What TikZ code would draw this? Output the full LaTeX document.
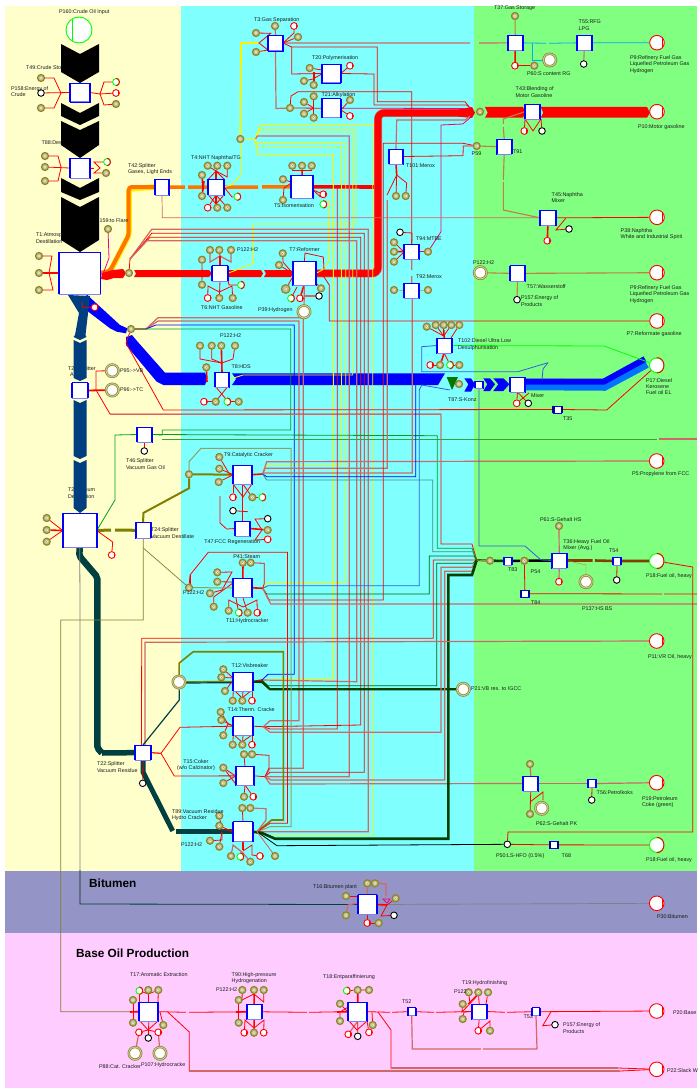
\documentclass[tikz,border=0pt]{standalone}
\usepackage{fontspec}
\setmainfont{Liberation Sans}
\pgfdeclarelayer{back}\pgfdeclarelayer{pipes}\pgfdeclarelayer{wires}
\pgfsetlayers{back,pipes,wires,main}
\definecolor{bgY}{HTML}{FFFFCC}\definecolor{bgC}{HTML}{80FFFF}\definecolor{bgG}{HTML}{80FF80}
\definecolor{bgB}{HTML}{9494C6}\definecolor{bgP}{HTML}{FFCCFF}
\definecolor{plc}{HTML}{8C8628}\definecolor{sal}{HTML}{D06868}\definecolor{dkb}{HTML}{003F7F}
\definecolor{dkt}{HTML}{004040}\definecolor{dkg}{HTML}{004000}\definecolor{olv}{HTML}{808000}
\definecolor{olt}{HTML}{90A060}\definecolor{brn}{HTML}{C08040}\definecolor{pipeb}{HTML}{804000}
\definecolor{grn}{HTML}{00A020}\definecolor{tgr}{HTML}{409080}\definecolor{bl2}{HTML}{3060E0}
\definecolor{lav}{HTML}{8080FF}\definecolor{gry}{HTML}{888888}\definecolor{txc}{HTML}{1C1C1C}
\tikzset{
 tbox/.style={draw=blue,fill=white,line width=.8pt,inner sep=0pt,outer sep=0pt},
 tside/.style={draw=blue,line width=1.8pt},
 tnavy/.style={draw=blue!60!black,line width=2.4pt},
 pl/.style={circle,draw=plc,fill=plc!55!white,line width=1.2pt,inner sep=0pt,minimum size=7pt,
   path picture={\fill[white] (path picture bounding box.center) circle(1.3pt);\fill[plc] (path picture bounding box.center) circle(.55pt);}},
 rp/.style={circle,draw=red,fill=white,line width=.9pt,inner sep=0pt,minimum size=6.8pt,
   path picture={\draw[red,line width=.7pt] ([xshift=2.4pt]path picture bounding box.north) -- ([xshift=2.4pt]path picture bounding box.south);}},
 bp/.style={circle,draw=black,fill=white,line width=.9pt,inner sep=0pt,minimum size=6.6pt},
 gp/.style={circle,draw=green,fill=white,line width=.9pt,inner sep=0pt,minimum size=6.8pt},
 bop/.style={circle,draw=plc,fill=white,double=plc!45!white,line width=.7pt,double distance=1pt,inner sep=0pt,minimum size=12.5pt},
 brp/.style={circle,draw=red,fill=white,line width=.9pt,inner sep=0pt,minimum size=14.6pt,
   path picture={\draw[red,line width=.8pt] ([xshift=5.8pt]path picture bounding box.north) -- ([xshift=5.8pt]path picture bounding box.south);}},
 bgp/.style={circle,draw=green,fill=white,line width=.9pt,inner sep=0pt,minimum size=14.6pt},
 lbl/.style={anchor=west,align=left,inner sep=0pt,outer sep=0pt,text=txc,font=\fontsize{5.4}{6.4}\selectfont},
 hdr/.style={anchor=west,inner sep=0pt,text=black,font=\fontsize{11.8}{13}\selectfont\bfseries},
 r/.style={draw=red,line width=.8pt},
 rt/.style={draw=red,line width=1.6pt},
 s/.style={draw=sal,line width=1.2pt},
 sl/.style={draw=sal,line width=.9pt},
 yw/.style={draw=yellow,line width=.9pt},
 bw/.style={draw=blue,line width=.8pt},
 b2/.style={draw=bl2,line width=.8pt},
 gw/.style={draw=grn,line width=.8pt},
 tg/.style={draw=tgr,line width=.8pt},
 dg/.style={draw=dkg!80!green,line width=.8pt},
 mg/.style={draw=magenta!80!red,line width=.8pt},
 ov/.style={draw=olv,line width=1.6pt},
 ol/.style={draw=olt,line width=1pt},
 ot/.style={draw=olv!60!gray,line width=.7pt},
 cw/.style={draw=cyan,line width=.8pt},
 br/.style={draw=brn,line width=1.1pt},
}
\newcounter{lbn}
\newcommand\LB[3]{\stepcounter{lbn}\node[lbl] (lb\thelbn) at (#1,#2) {#3};}
\newcommand\OP[3]{\node[pl] (#1) at (#2,#3) {};}
\newcommand\RP[3]{\node[rp] (#1) at (#2,#3) {};}
\newcommand\BP[3]{\node[bp] (#1) at (#2,#3) {};}
\newcommand\GR[3]{\node[gp] (#1) at (#2,#3) {};\draw[red,line width=.9pt] (#1.north) .. controls ([xshift=4.6pt]#1.north) and ([xshift=4.6pt]#1.south) .. (#1.south);}
\newcommand\BO[3]{\node[bop] (#1) at (#2,#3) {};}
\newcommand\BR[3]{\node[brp] (#1) at (#2,#3) {};}
\newcommand\BG[3]{\node[bgp] (#1) at (#2,#3) {};\draw[red,line width=.9pt] (#1.north) .. controls ([xshift=9.6pt]#1.north) and ([xshift=9.6pt]#1.south) .. (#1.south);}
\newcommand\TB[5]{\pgfmathsetmacro\tbx{(#2+#4)/2}\pgfmathsetmacro\tby{(#3+#5)/2}\pgfmathsetmacro\tbw{#4-#2}\pgfmathsetmacro\tbh{#5-#3}%
 \node[tbox,minimum width=\tbw pt,minimum height=\tbh pt] (#1) at (\tbx,\tby) {};%
 \draw[lav,line width=1pt] (#1.south west)--(#1.south east);%
 \draw[tside] (#1.north west)--(#1.south west) (#1.north east)--(#1.south east);}
\newcommand\TN[5]{\pgfmathsetmacro\tbx{(#2+#4)/2}\pgfmathsetmacro\tby{(#3+#5)/2}\pgfmathsetmacro\tbw{#4-#2}\pgfmathsetmacro\tbh{#5-#3}%
 \node[tbox,minimum width=\tbw pt,minimum height=\tbh pt] (#1) at (\tbx,\tby) {};%
 \draw[tnavy] (#1.north west)--(#1.south west) (#1.north east)--(#1.south east);}
\newcommand\CHV[4]{\fill[black] (61,#1)--(80,#1+#3)--(99,#1)--(99,#2)--(80,#2+#4)--(61,#2)--cycle;}
\begin{document}
\begin{tikzpicture}[x=1pt,y=-1pt]
\useasboundingbox (0,0) rectangle (697,1089);
\begin{pgfonlayer}{back}
\fill[white] (0,0) rectangle (697,1089);
\fill[bgY] (5,6) rectangle (181,871);
\fill[bgC] (181,6) rectangle (474,871);
\fill[bgG] (474,6) rectangle (697,871);
\fill[bgB] (5,871) rectangle (697,933);
\fill[bgP] (5,933) rectangle (697,1088);
\end{pgfonlayer}
% ---------- labels set under pipes
\begin{pgfonlayer}{back}
\LB{68}{369}{T23:Splitter}\LB{70}{375}{A}
\LB{68}{493}{T2:Vacuum\\Destillation}
\end{pgfonlayer}
% ---------- transitions
\TB{T49}{70}{83}{90}{102}\TB{T88}{70}{158}{90}{178}\TB{T1}{59}{252}{100.5}{294}\TB{T42}{155}{179}{169}{195}
\TB{T3}{268}{35}{283}{51}\TB{T20}{321.7}{64}{340.7}{83}\TB{T21}{321.7}{98.7}{340.7}{117.7}
\TB{T4}{208}{179}{224}{195}\TB{T5}{291}{175.3}{313.3}{198.3}\TB{T101}{389}{149}{403}{164}
\TB{T6}{212.3}{265.7}{227.7}{281}\TB{T7}{292.7}{261.7}{316}{285}\TB{T94}{404.3}{244}{419.3}{259}\TB{T92}{404.3}{283}{419.3}{298}
\TB{T37}{507.7}{35}{522.7}{50.7}\TB{T55}{576.7}{35}{591.7}{50.7}\TB{T43}{525}{104}{540}{119.3}\TB{T91}{496.7}{139}{511.7}{154.3}
\TB{T45}{540}{210}{555.7}{225.7}\TB{T57}{510}{265.7}{525}{281}
\TB{T102}{436.7}{338}{451.7}{353}\TB{T87}{475}{381}{483}{388}\TB{TMix}{510}{377}{525}{392}
\TB{T8}{215}{372}{229}{387}\TB{T23}{72}{382.7}{87.7}{398.3}\TB{T46}{137}{427}{152}{442}\TB{T2}{62.7}{513.3}{96.7}{547.7}
\TB{T24}{135.7}{522.3}{150.7}{538.3}\TB{T9}{233.3}{465.3}{252.3}{484}\TB{T47}{235.3}{521}{250.3}{536}\TB{T11}{233.3}{578.3}{252.3}{597.3}
\TB{T12}{233.3}{672.3}{252.7}{691}\TB{T14}{233.3}{716.7}{252.7}{735.7}\TB{T15}{235.7}{766.7}{254.3}{785}\TB{T89}{233.3}{821.7}{252.7}{841.7}
\TB{T22}{135.3}{745}{150.7}{760.3}\TB{T83}{504}{557}{511.7}{565}\TB{T36}{551.7}{553}{566.7}{568}\TB{T54}{613.3}{557}{620.7}{565}
\TB{T62}{523.3}{776}{538.3}{791}\TB{T56}{588.3}{779.3}{595.7}{787.7}\TB{T16}{358.3}{894.7}{376.7}{914.3}
\TB{T17}{139.3}{1002.3}{158.3}{1021}\TB{T90}{246.7}{1004.3}{261.7}{1019.3}\TB{T18}{348.3}{1002.3}{367.3}{1021}
\TB{T52}{407.7}{1007.7}{415.7}{1015.7}\TB{T19}{471.7}{1004}{486.7}{1019}\TB{T53}{532.3}{1007.7}{539.7}{1015.7}
\TN{T35}{553.3}{406}{561.7}{413}\TN{T84}{520.7}{590}{529}{597.3}\TN{T68}{550}{841}{557.7}{848.7}
% ---------- places
\node[circle,draw=green,fill=white,line width=.9pt,inner sep=0pt,minimum size=26pt,path picture={\draw[green,line width=.8pt] ([xshift=-7pt]path picture bounding box.north)--([xshift=-7pt]path picture bounding box.south);}] (P160) at (79,30) {};
\OP{a1}{41}{78}\BP{a2}{41}{93}\OP{a3}{41}{108}\GR{a4}{116}{82}\RP{a5}{116}{93}\OP{a6}{116}{104}
\OP{b1}{45}{156}\OP{b2}{45}{167}\OP{b3}{45}{181}\GR{b4}{107}{162}\OP{b5}{106}{173}
\OP{c1}{39}{256}\OP{c2}{39}{273}\OP{c3}{39}{290}\OP{P159}{108}{229}\OP{Pr1}{129}{273}\OP{Pb1}{131}{329}\RP{c5}{94.7}{307.3}
\OP{d1}{275}{26}\RP{d2}{294}{26}\OP{d3}{298}{37}\OP{d4}{256}{33}\OP{d5}{256}{52}
\OP{e1}{309.7}{68}\OP{e2}{304}{81}\OP{e3}{313.7}{85}\RP{e4}{350}{65.7}
\OP{Pa21}{290}{108}\OP{f2}{304}{102}\OP{f3}{304}{113.7}\OP{f4}{313.7}{96.3}\OP{f5}{313.7}{117.7}\OP{f6}{350}{100}\RP{f7}{350}{116}
\OP{Py}{240.3}{139}
\OP{g1}{207.7}{165.7}\OP{g2}{217.3}{165.7}\OP{g3}{227.3}{165.7}\OP{g4}{202}{175}\OP{g5}{202}{196}\RP{g6}{207.7}{207.7}\OP{g7}{217.3}{207.7}\OP{g8}{227.3}{207.7}\GR{g9}{237.3}{196.7}
\OP{h1}{292.3}{165.7}\OP{h2}{302}{165.7}\OP{h3}{311.7}{165.7}\OP{h4}{283}{179.3}\OP{h5}{283}{200}\RP{h6}{323.3}{194.3}\GR{h7}{323.3}{204.3}
\OP{i1}{396}{196}\OP{i2}{405.7}{196}
\BP{j1}{400}{232.3}\OP{j2}{394}{242.3}\OP{j3}{394}{251.7}\OP{j4}{394}{261.7}\OP{j5}{428}{251.7}\OP{j6}{394}{290}\OP{j7}{428}{290}
\OP{k1}{210}{250}\OP{k2}{219.3}{250}\OP{k3}{231}{250}\OP{k4}{202}{259.7}\OP{k5}{202}{284.7}\RP{k6}{207.7}{298}\OP{k7}{219.3}{298}\OP{k8}{232.7}{298}\GR{k9}{241}{285}
\OP{l1}{282.7}{253.3}\OP{l2}{279}{265}\node[pl,minimum size=8.5pt] (l3) at (285.7,289) {};\OP{l4}{321}{288.3}\GR{l5}{291}{298.3}\RP{l6}{300}{298.3}\BP{l7}{319}{296}\BO{P39}{304}{311.7}
\OP{m1}{515}{16}\RP{m2}{515}{65.7}\OP{m3}{534.3}{65.7}\BO{P60}{549.7}{60}\BP{m4}{583.7}{64}\BR{P9a}{657}{42.7}
\OP{Pc}{480}{111.7}\RP{n1}{524.3}{131}\BP{n2}{542}{131}\BR{P10}{657}{111.7}\OP{P59}{476.7}{146}
\RP{o1}{547.3}{240.7}\BP{o2}{569}{229}\BR{P38}{657}{217.3}
\BO{Ph2}{480.3}{272.7}\BP{o3}{517}{299.7}\BR{P9b}{657}{272.7}\BR{P7}{657}{321}
\OP{q1}{426.7}{326.7}\OP{q2}{435.7}{325}\OP{q3}{443.7}{325}\OP{q4}{451.3}{325}\OP{q5}{459.3}{325}\RP{q6}{430.3}{365}\OP{q7}{440}{365}\GR{q8}{450}{365}\OP{q9}{459.3}{365}
\OP{qa}{459}{384}\RP{qb}{516.7}{403.3}\BP{qc}{528.3}{403.3}\BG{P17}{656.7}{365.3}
\OP{r1}{200}{345.7}\OP{r2}{211.7}{345.7}\OP{r3}{221.3}{345.7}\OP{r4}{235}{345.7}\OP{r5}{206.3}{367.3}\RP{r6}{204}{401.7}\OP{r7}{215.7}{401.7}\GR{r8}{227.3}{401.7}\OP{r9}{238.7}{401.7}
\BO{P95}{112.3}{370.7}\BO{P96}{112.3}{390}\BP{s1}{144.3}{451}
\OP{t1}{46.7}{518}\OP{t2}{46.7}{530}\OP{t3}{46.7}{541.7}\RP{t4}{111.7}{555}
\OP{Pol}{189}{474.3}\OP{u1}{219.3}{457}\OP{u2}{219.3}{468.7}\OP{u3}{218.7}{482}\RP{u4}{233}{497.3}\OP{u5}{252.3}{497.3}\GR{u6}{262.3}{497.3}
\BP{v1}{233}{510.7}\BP{v2}{267.7}{518.7}\OP{v3}{267.7}{530}\RP{v4}{267.7}{539.3}
\OP{Pp}{189}{587.7}\OP{w1}{242.7}{562.7}\OP{w2}{250.7}{562.7}\OP{w3}{217.3}{572.3}\OP{w4}{217.3}{581.7}\OP{w5}{210}{593.3}\OP{w6}{213.7}{606.7}\OP{w7}{228.7}{610.7}\GR{w8}{238.7}{612.7}\OP{w9}{247.7}{612.7}\RP{wa}{257.3}{612.7}
\BO{Pvb}{179}{682}\OP{x1}{223.3}{669.3}\OP{x2}{221.3}{677.3}\OP{x3}{225}{691}\OP{x4}{232.7}{700.7}\OP{x5}{242.3}{700.7}\RP{x6}{252}{700.7}
\OP{y1}{220.7}{712}\OP{y2}{221.3}{720}\OP{y3}{223.3}{735.3}\OP{y4}{232.7}{744.7}\OP{y5}{242.3}{744.7}\RP{y6}{252}{744.7}
\OP{z1}{244}{754.3}\OP{z2}{252}{754.3}\OP{z3}{223.3}{767.7}\OP{z4}{223.3}{783}\OP{z5}{244}{796.7}\RP{z6}{253.3}{796.7}
\OP{A1}{242.3}{808}\OP{A2}{250.3}{808}\OP{A3}{219.3}{815.7}\OP{A4}{219.3}{825.7}\OP{A5}{210}{840.7}\OP{A6}{219.3}{846.7}\OP{A7}{231}{856}\GR{A8}{240.3}{856.7}\OP{A9}{250.3}{861.7}\RP{Aa}{260}{856}\OP{Ab}{275}{856}
\BP{B1}{142.7}{783.3}\BO{P21}{463.3}{689.3}\OP{Pm}{490}{560.7}\OP{P54}{524.3}{560.7}\OP{P61}{559}{526}\RP{C1}{559}{581.7}\BO{P137}{586}{581.7}\BP{C2}{616.7}{580}\BG{P18a}{656.7}{561}
\BR{P5}{656.7}{461}\BR{P11}{656.7}{641}\BR{P19}{656.7}{782.7}\OP{D1}{530}{764}\OP{D2}{530}{814}\BO{P62}{541.7}{808.3}\BP{D3}{591.7}{800}
\BP{P50}{507.3}{844.3}\BG{P18b}{656.7}{845}\BR{P30}{656.7}{903.3}
\OP{E1}{367.3}{883.3}\OP{E2}{375}{883.3}\OP{E3}{346}{896}\OP{E4}{346}{915.3}\OP{E5}{395.7}{898.3}\BP{E6}{394}{915.3}\RP{E7}{367.3}{923}\OP{E8}{378.7}{923}
\GR{F1}{139.3}{990.7}\OP{F2}{148.3}{990}\OP{F3}{158.3}{990}\OP{F4}{133}{1000}\OP{F5}{133}{1022.7}\OP{F6}{163.3}{1025}\RP{F7}{139}{1032.3}\BP{F8}{148.3}{1038}\RP{F9}{158.3}{1032.3}\BO{P88}{135}{1053.3}\BO{P107}{160}{1053.3}
\OP{G1}{242.3}{990}\OP{G2}{254}{990}\OP{G3}{263.7}{990}\OP{G4}{238.7}{1000}\OP{G5}{238.7}{1022.7}\RP{G6}{244.3}{1032.7}\OP{G7}{254}{1032.7}\RP{G8}{263.7}{1032.7}
\GR{H1}{346.7}{990.7}\OP{H2}{357.7}{990}\OP{H3}{369}{990}\OP{H4}{340}{1003.7}\OP{H5}{340}{1021}\OP{H6}{372.7}{1025}\RP{H7}{348.3}{1034.3}\BP{H8}{357.7}{1036.3}\RP{H9}{369}{1032.3}
\OP{I1}{468.7}{992.3}\OP{I2}{478.3}{992.3}\OP{I3}{488}{992.3}\OP{I4}{462.7}{1004}\OP{I5}{462.7}{1019}\RP{I6}{478.3}{1030.7}\OP{I7}{490}{1030.7}
\BP{J1}{555}{1024.7}\BR{P20}{656.7}{1011}\BR{P22}{656.7}{1069.3}
% ---------- fan apex coordinates
\coordinate (fy) at (255.5,139);\coordinate (fr) at (130,259);\coordinate (fb) at (146,329);
\coordinate (f9) at (262.7,474);\coordinate (f11) at (262.7,588.3);\coordinate (f12) at (262,680);
\coordinate (f14) at (263.3,726.7);\coordinate (f15) at (265,776.7);\coordinate (f89) at (257,831.7);\coordinate (fm) at (476.7,560);
% ---------- pipes
\begin{pgfonlayer}{pipes}
\CHV{44}{72}{10}{11}\CHV{103}{116}{10}{9}\CHV{121}{145}{9}{13}\CHV{178}{192}{10}{8}\CHV{197}{240}{10}{12}
% orange
\draw[yellow,line width=5.6pt,rounded corners=3pt] (T1.east)--(110,272)--(129,235)--(129,189)--(T42.west);
\draw[orange!90!red,line width=4pt,rounded corners=3pt] (T1.east)--(110,271)--(128.7,235)--(128.7,187)--(T42.west);
\draw[orange!90!red,line width=3.5pt] (T42.east)--(185,187) (188,187)--(T4.west) (T4.east)--(258,187) (262,187)--(T5.west);
\draw[red,line width=3.6pt] (T5.east)--(375,187);
% red
\fill[red] (101,279)--(102,273)--(113,270)--(123,269)--(126,273)--(123,278)--(114,278)--(107,280)--cycle;
\fill[red] (134,270)--(209,270)--(212,273.5)--(209,277)--(134,277)--(136,273.5)--cycle;
\fill[red] (228,270)--(261,270)--(263,273.5)--(261,277)--(228,277)--cycle;
\fill[red] (264,270)--(291,270)--(293,273.5)--(291,277)--(264,277)--(266,273.5)--cycle;
\draw[sal,line width=8pt,rounded corners=6pt] (T7.east)--(378,273.5)--(378,113)--(472,113);
\draw[red,line width=6.6pt,rounded corners=6pt] (T7.east)--(378,273.5)--(378,113)--(472,113);
\fill[red] (458,109.7)--(472,107)--(475,112.7)--(472,118)--(458,116.5)--cycle;
\fill[red] (485,107)--(523,107)--(525.3,112.7)--(523,117.7)--(485,117.7)--(487.7,112.7)--cycle;
\fill[red] (540.7,107)--(647,107)--(650,112.7)--(647,117.7)--(540.7,117.7)--(543.3,112.7)--cycle;
% blue
\fill[blue] (81.7,298)--(87.3,295)--(120,325)--(127.3,328.3)--(126,333.3)--(116.7,331.7)--(110,328.3)--(81.7,306.7)--cycle;
\fill[blue] (126,337)--(132,335)--(137,341)--(165,372.7)--(205,372.7)--(207.3,378.3)--(205,385)--(163.3,385)--(156.7,381.7)--(126,345)--cycle;
\fill[blue] (232,373.3)--(445,373.3)--(438,385)--(232,385)--(236,379)--cycle;
\fill[dkg!70!green] (446.7,377)--(458,377)--(452,390)--cycle;
\fill[blue] (464.3,378.3)--(471,378.3)--(475,384.3)--(471,391.7)--(464.3,391.7)--(468.3,384.3)--cycle;
\fill[blue] (483.3,378.3)--(490,378.3)--(495,384.3)--(490,391)--(483.3,391)--(487.3,384.3)--cycle;
\fill[blue] (493.3,378.3)--(503.3,378.3)--(509.3,384.3)--(503.3,391)--(493.3,391)--(498.3,384.3)--cycle;
\draw[blue!55!cyan,line width=11.5pt] (TMix.east)--(604,385)--(646,362.5);
\draw[blue,line width=6pt] (TMix.east |- 0,381.5)--(604,381.5)--(645,359);
% dark blue
\fill[dkb] (68,295)--(90,296)--(85.5,335)--(86.5,337)--(80,340)--(73.5,337)--(75,335)--(79,313)--cycle;
\fill[dkb] (73.5,340)--(80,343)--(86.5,340)--(86.5,378)--(80,381)--(73.5,378)--cycle;
\fill[dkb] (73.5,400)--(80,403)--(86.5,400)--(86.5,456)--(80,459)--(73.5,456)--cycle;
\fill[dkb] (73.5,460)--(80,463)--(86.5,460)--(86.5,508)--(80,513)--(73.5,508)--cycle;
% dark teal
\draw[dkt,line width=6.5pt,rounded corners=2pt] (T2.south)--(79.3,556)--(97.3,577)--(97.3,748)--(102,753);
\draw[dkt,line width=5.5pt] (102,753)--(T22.west);
\draw[dkt,line width=5pt] (T22.south)--(143,772)--(172.7,831);
\draw[dkt,line width=5pt] (176,831.7)--(T89.west);
% olive
\draw[olv,line width=3pt] (T2.east)--(111,530) (115,530)--(T24.west);
\draw[olv,line width=2pt] (T24.north)--(143.3,513)--(189,488.3)--(Pol);
\draw[olv,line width=2pt] (Pol)--(T9.west);
\draw[olv,line width=1.7pt] (Pvb)--(T12.west);
\draw[dkt,line width=1.2pt] ([yshift=-1pt]Pvb.east)--([yshift=-1pt]T12.west);
% red to T2
\draw[red,line width=1.8pt] (T23.east)--(P96);
% brown / black
\draw[dkg,line width=2.6pt] (Pm)--(T83);
\draw[black,line width=2.4pt] (T83)--(P54) (P54)--(T36);
\draw[pipeb,line width=2.6pt] (T36.east)--(592.5,560.5) (595,560.5)--(T54.west) (T54.east)--(P18a);
\end{pgfonlayer}
% ---------- wires
\begin{pgfonlayer}{wires}
% yellow
\draw[yw,line width=1.8pt] (Py)--(241,43)--(258,43);
\draw[yw] (T4.east)--(232,184.7)--(241,175)--(Py);
\draw[yw] (Py)--(fy);
\draw[yw] (fy)--(260,124.7)--(372.7,124.7)--(372.7,835.7)--(267,835.7)--(T89.east);
\draw[yw] (fy)--(260,128.3)--(356,128.3)--(356,224)--(253.3,224)--(253.3,263.3)--(T6.east);
\draw[yw] (fy)--(258.7,132)--(352.7,132)--(352.7,375)--(243,375)--(T8.east);
\draw[s] (fy)--(257.3,136)--(349.3,136)--(349.3,776.7)--(f15);
\draw[yw] (fy)--(255.3,143.3)--(345.7,143.3)--(345.7,582.3)--(268,582.3)--(f11);
\draw[yw] (fy)--(256,146.7)--(341.5,146.7)--(341.5,465)--(267,465)--(f9);
\draw[yw] (fy)--(257.7,154.3)--(333.3,154.3)--(333.3,678.3)--(f12);
\draw[yw] (T7.east)--(324,269)--(328.3,262)--(328.3,200);
% red fan from Pr1
\draw[r] (Pr1)--(fr);
\draw[s] (fr)--(151.7,229.3)--(368.3,229.3)--(368.3,831.7)--(f89);
\draw[r] (fr)--(151.7,233.3)--(364.3,233.3)--(364.3,772.3)--(270,772.3)--(f15);
\draw[r] (fr)--(150,237.3)--(360.7,237.3)--(360.7,725)--(f14);
\draw[s] (fr)--(147,240.7)--(356.7,240.7)--(356.7,681.7)--(f12);
% blue fan
\draw[s] (Pb1)--(fb);
\draw[s] (fb)--(158,317.7)--(303.3,317.7)--(303.3,768.3)--(270,768.3)--(f15);
\draw[s] (fb)--(158,321)--(299,321)--(299,720.7)--(270,720.7)--(f14);
\draw[bw] (fb)--(156,325)--(294.3,325)--(294.3,674.3)--(268,674.3)--(f12);
\draw[gw] (Pb1)--(290.7,329)--(290.7,430)--(162.3,430)--(162.3,435)--(T46.east);
% T23 / long horizontals
\draw[r] (P95)--(96,371)--(96,390)--(110,414)--(441,414)--(441,544)--(472,544)--(fm);
\draw[s,line width=.8pt] (110,414)--(441,414);
\draw[r] (Pb1)--(126,343)--(163.3,410)--(T35.west);
\draw[r] (T35.east)--(606.7,410)--(P17);
% T46
\draw[gw] (T46.east)--(437.3,435.7)--(437.3,548.3)--(472,548.3)--(fm);
\draw[gw,draw=grn!60!olt] (162,439)--(657,439);\draw[s] (659,439)--(697,439);
\draw[gw] (T2.east)--(115,500)--(115,435)--(T46.west);
\draw[r] (T46.south)--(s1);
% T9 fan
\draw[rt] (T9.east)--(f9);
\draw[s] (f9)--(266.7,461.7)--(P5);
\draw[s] (f9)--(265,468.3)--(387.3,468.3)--(387.3,200);
\draw[s] (f9)--(264,473)--(412.3,473)--(412.3,298)--(T92.south);
\draw[bw] (f9)--(266.7,476.7)--(415.7,476.7)--(415.7,385);
\draw[tg] (f9)--(266.7,480)--(432.7,480)--(432.7,551.7)--(472.7,551.7)--(fm);
% T11 fan
\draw[rt] (T11.east)--(f11);
\draw[b2] (f11)--(268,585.7)--(419.3,585.7)--(419.3,390)--(421.7,385)--(450,390);
\draw[dg] (f11)--(266.7,594)--(429.3,594)--(429.3,556)--(474,556)--(fm);
\draw[r] (f11)--(269.3,600)--(383.3,600)--(383.3,143.3)--(463,143.3)--(P59);
\draw[s] (f11)--(270.7,604)--(697,604);
% T12 fan
\draw[rt] (T12.east)--(f12);
\draw[dg] (f12)--(268,685.7)--(436.7,685.7)--(436.7,563.3)--(473,563.3)--(fm);
\draw[dkg,line width=2.2pt] (T12.east)--(262,682)--(270,689.3)--(P21);
% T14 fan
\draw[r] (T14.east)--(f14);
\draw[r] (f14)--(270,729)--(337.3,729)--(337.3,187);
\draw[s] (f14)--(270,732.3)--(441,732.3)--(441,567.3)--(472,567.3)--(fm);
% T15 fan
\draw[r] (T15.east)--(f15);
\draw[s] (f15)--(271,780)--(444.7,780)--(444.7,571.3)--(472,571.3)--(fm);
\draw[s] (f15)--(270,784)--(T62.west);
\draw[s] (T62.east)--(T56.west);\draw[s] (T56.east)--(P19);
% T89 fan
\draw[rt] (T89.east)--(f89);
\draw[ov] (f89)--(271.7,820)--(283.3,820)--(283.3,651.7)--(193.3,651.7)--(179.3,663)--(Pvb);
\draw[ol] (f89)--(270,826.7)--(291,826.7)--(291,448.3)--(201,448.3)--(189,461.7)--(Pol);
\draw[r] (f89)--(270,823.3)--(287.5,823.3)--(287.5,552.3)--(208.3,552.3)--(190,575)--(Pp);
\draw[dkg,line width=2.6pt] (T89.east)--(262,833)--(275,838.7)--(448.3,838.7)--(448.3,575)--(472,575)--(fm);
\draw[black,line width=.8pt] (f89)--(277,845.7)--(P50);
\draw[sl] (f89)--(Ab);
% T22
\draw[r] ([xshift=-1.5pt]T22.north)--(141.7,638.3)--(433.3,638.3)--(433.3,560)--(fm);
\draw[s] ([xshift=2pt]T22.north)--(145,642.3)--(P11);
\draw[dkt,line width=1.2pt] (T22.north)--(179.3,700)--(Pvb);
\draw[r] (T22.east)--(161,753.3)--(180,727.3)--(T14.west);
\draw[r] (T22.east)--(161,753.3)--(174.3,776)--(T15.west);
\draw[r] (T22.south)--(B1);
% merge
\draw[dkg,line width=2pt] (fm)--(Pm);
\draw[br] (fm)--(Pm);
% T3 etc
\draw[s] (T3.east)--(470,43) (479,43)--(T37.west);
\draw[s] (T3.south)--(276,108.5)--(Pa21);
\draw[r] (T3.east)--(291.7,47)--(377.3,47)--(377.3,101.7)--(465,101.7)--(470,108);
\draw[r] (291.7,47)--(291.7,74)--(T20.west);
\draw[r] (T20.east)--(374,74)--(374,105)--(466.7,105)--(470,108);
\draw[r] (Pa21)--(291,96)--(298,91.7)--(411.7,91.7)--(T94.north);
\draw[mg] (T21.east)--(466,108.5);
\draw[s] (d1)--(T3.north);\draw[r] (d2)--(294,33)--(T3.east);\draw[r] (d3)--(T3.east);
\draw[r] (d4)--(270.7,33.3)--(259,43)--(268,50)--(d5);
\draw[r] (e1)--(321.7,70);\draw[r] (e2)--(313,79)--(321.7,74);\draw[rt] (e3)--(313.7,72);\draw[r] (T20.east)--(e4);
\draw[r] (Pa21)--(T21.west);\draw[r] (f2)--(313.7,108);\draw[r] (f3)--(313.7,108);\draw[r] (f4)--(313.7,108);\draw[r] (f5)--(313.7,108);
\draw[r] (f6)--(341,110)--(f7);
\draw[s] (T101.north)--(396.7,120)--(465,120)--(470,116);
\draw[r] (T101.east)--(463,155.7)--(463.3,146)--(P59);
\draw[rt] (T101.south)--(396.7,175);\draw[r] (396.7,175)--(387,195);\draw[r] (396.7,175)--(i1);\draw[r] (396.7,175)--(406.7,183)--(i2);
\draw[mg] (j5)--(441,231.7)--(441,125)--(462.7,124)--(470,118);
\draw[s] (T94.south)--(411.7,270) (411.7,276)--(T92.north);
\draw[r] (j1)--(412,233)--(T94.north);\draw[r] (j2)--(404,252);\draw[rt] (j3)--(T94.west);\draw[r] (j4)--(404,252);\draw[mg] (T94.east)--(j5);
\draw[brn] (j6)--(T92.west);\draw[brn] (T92.east)--(j7);
% T4
\draw[rt] (T4.north)--(216,171);\draw[r] (216,171)--(g1);\draw[r] (216,171)--(g2);\draw[r] (216,171)--(227.3,177)--(g3);\draw[r] (216,171)--(208.5,179);\draw[r] (216,171)--(224,179);
\draw[rt] (g4)--(203,190);\draw[rt] (g5)--(204,181);
\draw[rt] (T4.south)--(216,204);\draw[r] (208.5,195)--(216,204)--(224,195);\draw[r] (g6)--(216,195);\draw[r] (g8)--(216,195);
\draw[r] (T4.south)--(g7);\draw[r] (T4.east)--(232,197)--(g9);
% T5
\draw[rt] (T5.north)--(h2);\draw[r] (h1)--(292.3,170)--(311.7,170)--(h3);
\draw[r] (h4)--(291,182);\draw[r] (h5)--(284,188)--(297,179);
\draw[r] (T5.east)--(313,190)--(h6);\draw[r] (313,190)--(h6.south west);
% T6
\draw[s] (k1)--(210,262)--(220,256)--(231,262)--(k3);\draw[r] (k2)--(220,256);\draw[rt] (220,256)--(T6.north);
\draw[r] (k4)--(202,270)--(T6.west);\draw[r] (k5)--(202,277)--(T6.west);
\draw[r] (T6.south)--(k7);\draw[r] (k6)--(208,286)--(219.3,292)--(232,286)--(k8);
\draw[r] (T6.east)--(228,280)--(229,285)--(k9);
% T7
\draw[r] (l1)--(283,262)--(T7.west);\draw[r] (l2)--(T7.west);\draw[r] (l3)--(292,278);
\draw[r] (l5)--(297,287);\draw[rt] (l6)--(304,285);\draw[s] (T7.south)--(P39);\draw[s] (304,296)--(l7);
\draw[r] (T7.north)--(305,253)--(323.3,257)--(324,270);
\draw[r] (T7.east)--(324,277)--(329.3,285)--(329.3,321)--(P7);
\draw[r] (l4)--(316,283);
% T37, T55
\draw[br] (m1)--(T37.north);\draw[rt] (T37.south)--(m2);\draw[r] (m2)--(m3);
\draw[cw] (T37.east)--(546,43.3) (549,43.3)--(T55.west);\draw[cw] (532,43.3)--(532,60)--(P60);\draw[cw] (T55.east)--(P9a);
\draw[br] (T55.south)--(m4);
% T43, T91, T45
\draw[r] (T43.south)--(525,119)--(533,131)--(541,119);\draw[r] (n1)--(525,119);\draw[r] (n2)--(541,119);
\draw[br] (T43.west)--(503.3,119) -- (503.3,124) (503.3,127)--(T91.north);
\draw[br] (P59)--(T91.west);
\draw[br] (T91.south)--(503.3,180) (503.3,182)--(503.3,210)--(T45.west);
\draw[sl,line width=.7pt] (T42.south)--(162.3,217.7)--(T45.west);
\draw[r] (T45.east)--(P38);\draw[rt] (T45.south)--(o1);
\draw[r] (565.7,218.3)--(556,230)--(o2);
% T57
\draw[br] (Ph2)--(T57.west);\draw[br] (T57.east)--(P9b);\draw[br] (T57.south)--(o3);
% T102
\draw[rt] (T102.north)--(443.7,330);\draw[r] (q1)--(443.7,336);\draw[r] (q2)--(443.7,336);\draw[r] (q3)--(443.7,336);\draw[r] (q4)--(443.7,336);\draw[r] (q5)--(451,338);
\draw[rt] (T102.south)--(q7);\draw[r] (q6)--(q7);\draw[r] (T102.south)--(q8);\draw[r] (q8)--(q9);
\draw[draw=green,line width=.8pt] (T102.east)--(604,346)--(P17);
\draw[b2] (T102.west)--(421.7,346.7)--(421.7,371.7)--(518,371.7)--(548,362.7);
\draw[b2] (548,362.7)--(543,369)--(542,380);
\draw[b2] (T87.south)--(479,546)--(525,546)--(541,560)--(T36.west);
\draw[r] (TMix.south)--(qb);\draw[r] (qb)--(529,393);\draw[r] (TMix.south)--(qc);
% T1, T49, T88
\draw[r] (a1)--(54,78)--(61,93);\draw[r] (a2)--(T49.west);\draw[r] (a3)--(54,108)--(61,93);
\draw[r] (T49.east)--(100,94)--(104,82)--(a4);\draw[r] (100,94)--(a5);\draw[r] (100,94)--(104,105)--(a6);
\draw[r] (b1)--(58,156)--(61,167);\draw[r] (b2)--(T88.west);\draw[r] (b3)--(58,181)--(61,168);
\draw[r] (b4)--(94,162)--(100,168)--(94,173)--(b5);\draw[r] (T88.east)--(94,168);
\draw[r] (c1)--(52,256)--(49,273);\draw[rt] (c2)--(T1.west);\draw[r] (c3)--(53,290)--(49,273);
\draw[mg] (P159)--(109,258)--(103,274);
\draw[draw=red,line width=.8pt] (82,302)--(82.3,307.3)--(c5);
% T8
\draw[r] (r1)--(200,359)--(221.7,363);\draw[r] (r2)--(211.7,359)--(221.7,363);\draw[rt] (r3)--(T8.north);\draw[r] (r4)--(233,359)--(221.7,363);
\draw[rt] (r5)--(207,382);
\draw[r] (216.7,388)--(226.7,400);\draw[r] (226.7,388)--(216.7,400);\draw[r] (r6)--(r7);\draw[r] (r8)--(r9);
% T2, T24
\draw[r] (t1)--(T2.west);\draw[rt] (t2)--(T2.west);\draw[r] (t3)--(T2.west);
\draw[r] (T2.east)--(112.7,542)--(t4);
\draw[ot] (T24.south)--(143.3,548)--(Pp);
\draw[ot] (143.3,548)--(143.3,620)--(60.7,620)--(60.7,1011.7)--(T17.west);
\draw[draw=gray,line width=.8pt] (T2.south)--(80,600)--(80,904);
\draw[dkt,line width=.8pt] (80,870)--(80,904)--(T16.west);
\draw[draw=gray,line width=.7pt] (T16.east)--(P30);
% T9
\draw[r] (u1)--(230,475);\draw[r] (u2)--(T9.west);\draw[r] (u3)--(T9.west);
\draw[r] (u4)--(233,484);\draw[r] (T9.south)--(u5);\draw[r] (233,484)--(243,497)--(252,484);\draw[r] (u5)--(u6);
\draw[r] (220,496)--(220,523)--(226.7,529)--(T47.west);
\draw[r] (T9.south)--(T47.north);\draw[r] (v1)--(248,511.7);
\draw[rt] (T47.east)--(v3);\draw[r] (v2)--(255,519)--(262,530)--(255,540)--(v4);
% T11
\draw[rt] (T11.north)--(243,565);\draw[r] (w2)--(264.3,563.3)--(264.3,583.3)--(f11);
\draw[r] (w3)--(232,572)--(222,590)--(w5);\draw[r] (w4)--(232,582)--(T11.west);\draw[r] (w6)--(213.7,597)--(233,583);
\draw[ol] (Pp)--(T11.west);\draw[r] (190,575)--(190,585);
\draw[r] (w7)--(228.7,600)--(243,607)--(257,600)--(wa);\draw[r] (w8)--(236,598);\draw[r] (w9)--(T11.south);
% T12
\draw[r] (x1)--(233.3,678);\draw[r] (x2)--(233.3,678);\draw[r] (x3)--(233.3,680);
\draw[r] (x4)--(233.3,691);\draw[r] (x5)--(T12.south);\draw[r] (x6)--(252,691);\draw[r] (234,690)--(242,698)--(252,690);
% T14
\draw[r] (y1)--(228,724)--(233.3,726);\draw[r] (y2)--(233.3,726);\draw[r] (y3)--(228,724);
\draw[r] (y4)--(233.3,735);\draw[r] (y5)--(T14.south);\draw[r] (y6)--(252,735);\draw[r] (234,735)--(242,742)--(252,735);
% T15
\draw[r] (z1)--(T15.north);\draw[r] (z2)--(269,755.3)--(269,768)--(f15);
\draw[r] (z3)--(235.7,776);\draw[r] (z4)--(235.7,776);\draw[r] (z3)--(235.7,784);
\draw[r] (z5)--(T15.south);\draw[r] (z6)--(T15.south);
% T89
\draw[r] (A1)--(T89.north);\draw[s] (A2)--(266,808.7)--(266,820)--(f89);
\draw[r] (A3)--(222,830)--(233.3,830);\draw[r] (A4)--(233.3,832);\draw[r] (A5)--(222,840)--(222,832);\draw[r] (A6)--(222,832);
\draw[rt] (T89.south)--(243,850);\draw[s] (A7)--(233,845)--(243,853)--(A9);\draw[r] (A8)--(243,853);\draw[r] (243,851)--(252,845)--(252,855)--(Aa);
% T36 etc
\draw[s] (P61)--(T36.north);\draw[s] (T36.south)--(C1);
\draw[brn] (T36.east)--(586,565)--(P137);
\draw[r] (P54)--(T84.north);\draw[r] (T84.east)--(662,594) (664,594)--(697,594);
\draw[r] (T54.south)--(C2);
\draw[r] (P18a)--(692.7,567)--(692.7,832)--(508,832)--(P50);
\draw[r] (P50)--(T68.west);\draw[r] (T68.east)--(P18b);
% T62
\draw[s] (D1)--(T62.north);\draw[r] (T62.south)--(D2);\draw[r] (530,802)--(543,792)--(543,800);\draw[r] (T56.south)--(D3);
% T16
\draw[s] (E1)--(T16.north);\draw[s] (E2)--(386,884)--(386,896);\draw[r] (E3)--(358,896);\draw[s] (E4)--(348,905)--(358,903);
\draw[r] (T16.south)--(E7);\draw[r] (E7)--(E8);\draw[rt] (T16.east)--(387,905);\draw[r] (E5)--(387,905)--(381,916)--(E6);
\draw[mg] (383,899)--(390,899)--(387,903)--cycle;
% base oil
\draw[rt] (F2)--(148.3,1002);\draw[r] (F1)--(148.3,994)--(F3);\draw[r] (F1)--(139.3,1002);\draw[r] (F3)--(158,1002);
\draw[r] (F4)--(133,1012);\draw[r] (F5)--(133,1012);\draw[rt] (130,1012)--(T17.west);
\draw[r] (T17.east)--(186,1012.3) (189,1012.3)--(T90.west);
\draw[r] (T17.south)--(F8);\draw[r] (140,1021)--(148,1030)--(158,1021);\draw[r] (F7)--(148,1030)--(F9);\draw[r] (F6)--(160,1012);
\draw[s] (F7)--(P88);\draw[s] (F9)--(P107);
\draw[r] (168,1012.3)--(189.3,1032)--(189.3,1071)--(620,1071)--(P22);
\draw[s] (189.3,1071)--(620,1071);
\draw[r] (G1)--(242,1000)--(254,994)--(263.7,1002)--(G3);\draw[rt] (G2)--(T90.north);
\draw[r] (G4)--(238.7,1012);\draw[r] (G5)--(238.7,1012);\draw[rt] (236,1012)--(T90.west);
\draw[r] (T90.east)--(307,1012.3) (309,1012.3)--(T18.west);
\draw[rt] (T90.south)--(G7);\draw[r] (G6)--(245,1020)--(254,1028)--(264,1020)--(G8);
\draw[r] (H1)--(H2)--(H3);\draw[rt] (H2)--(T18.north);
\draw[r] (H4)--(348,1012);\draw[r] (H5)--(340,1012)--(355,1003);\draw[rt] (337,1012)--(T18.west);
\draw[r] (T18.east)--(390,1012.3) (392,1012.3)--(T52.west);
\draw[s] (T18.south)--(H7);\draw[r] (T18.south)--(H8);\draw[r] (349,1021)--(357,1030)--(367,1021)--(H9);\draw[r] (H6)--(372,1012);
\draw[r] (378,1012)--(391,1030)--(391,1068)--(618,1068)--(P22);
\draw[s] (391,1068)--(618,1068);
\draw[r] (T52.east)--(434,1012.3) (436,1012.3)--(T19.west);
\draw[r] (I1)--(470,1004);\draw[r] (I2)--(T19.north);\draw[r] (I3)--(486,1004);\draw[r] (478,994)--(468,1004);
\draw[r] (478,995)--(462,1012)--(I4);\draw[r] (I5)--(464,1012)--(T19.west);
\draw[r] (T19.south)--(I6);\draw[r] (I6)--(490,1021)--(I7);
\draw[r] (T19.east)--(505,1012.3) (507,1012.3)--(T53.west);\draw[r] (T53.east)--(P20);
\draw[r] (550.7,1012.3)--(542.7,1025.7)--(J1);
\draw[s] (T52.south)--(412.3,1049)--(481,1049) (483,1049)--(537,1049)--(T53.south);
\end{pgfonlayer}
% ---------- labels
\LB{59}{12}{P160:Crude Oil Input}
\LB{26}{68}{T49:Crude Sto}\LB{11}{91.5}{P158:Energy of\\Crude}\LB{41.5}{143}{T88:Des}
\LB{128}{169}{T42:Splitter\\Gases, Light Ends}\LB{36}{238}{T1:Atmosp\\Destillation}\LB{99.5}{221}{159:to Flare}
\LB{254}{20}{T3:Gas Separation}\LB{312}{58}{T20:Polymerisation}\LB{321.5}{95}{T21:Alkylation}
\LB{191}{158}{T4:NHT Naphtha/TG}\LB{274}{206}{T5:Isomerisation}\LB{406}{166}{T101:Merox}
\LB{201}{308}{T6:NHT  Gasoline}\LB{237}{250}{P122:H2}\LB{289.3}{250}{T7:Reformer}\LB{258}{310}{P39:Hydrogen}
\LB{416}{239}{T94:MTBE}\LB{416}{277}{T92:Merox}\LB{220}{336}{P122:H2}\LB{231.5}{367}{T8:HDS}
\LB{494}{8}{T37:Gas Storage}\LB{578.7}{25}{T55:RFG\\LPG}\LB{527}{74}{P60:S content RG}\LB{630}{64.5}{P9:Refinery Fuel Gas\\Liquefied Petroleum Gas\\Hydrogen}
\LB{515.7}{92}{T43:Blending of\\Motor Gasoline}\LB{638}{127}{P10:Motor gasoline}\LB{513}{152}{T91}\LB{471.7}{154}{P59}
\LB{551.7}{197.5}{T45:Naphtha\\Mixer}\LB{620.7}{234}{P38:Naphtha\\White and Industrial Spirit}
\LB{473}{263}{P122:H2}\LB{526.7}{287}{T57:Wasserstoff}\LB{521}{301}{P157:Energy of\\Products}\LB{630}{294.5}{P9:Refinery Fuel Gas\\Liquefied Petroleum Gas\\Hydrogen}
\LB{626.7}{334}{P7:Reformate gasoline}\LB{458}{344.5}{T102:Diesel Ultra Low\\Desulphurisation}\LB{448}{400}{T87:S-Konz}\LB{531}{396}{Mixer}
\LB{646}{386.5}{P17:Diesel\\Kerosene\\Fuel oil EL}\LB{563}{419}{T35}\LB{632}{474}{P5:Propylene from FCC}
\LB{120}{371}{P95:->VB}\LB{120}{390}{P96:->TC}\LB{126}{464}{T46:Splitter\\ Vacuum Gas Oil}\LB{224}{455}{T9:Catalytic Cracker}
\LB{151}{533}{T24:Splitter\\Vacuum Destillate}\LB{204.3}{542}{T47:FCC Regeneration}\LB{233.3}{557}{P41:Steam}\LB{183}{593}{P122:H2}\LB{226}{621}{T11:Hydrocracker}
\LB{540}{520}{P61:S-Gehalt HS}\LB{563.3}{545}{T36:Heavy Fuel Oil\\Mixer (Avg.)}\LB{609}{551}{T54}\LB{508}{570}{T83}\LB{530.7}{572}{P54}\LB{646}{576}{P18:Fuel oil, heavy}\LB{531}{603}{T84}\LB{582}{609}{P137:HS BS}\LB{648}{657}{P11:VR Oil, heavy}
\LB{231.7}{666}{T12:Visbreaker}\LB{471}{689}{P21:VB res. to IGCC}\LB{227.7}{710}{T14:Therm. Cracke}
\LB{97}{767}{T22:Splitter\\Vacuum Residue}\node[lbl,align=center] (lbT15) at (177,765) {T15:Coker\\(w/o Calcinator)};
\LB{172}{815}{T89:Vacuum Residue\\Hydro Cracker}\LB{181}{845}{P122:H2}
\LB{596.7}{793}{T56:Petrolkoks}\LB{642}{802}{P19:Petroleum\\Coke (green)}\LB{536}{824}{P62:S-Gehalt PK}
\LB{496}{856}{P50:LS-HFO (0.5\%)}\LB{561.7}{856}{T68}\LB{646}{860}{P18:Fuel oil, heavy}\LB{657}{917}{P30:Bitumen}
\node[hdr] (hBit) at (89,883) {Bitumen};\node[hdr] (hBase) at (76,953) {Base Oil Production};
\LB{313}{887}{T16:Bitumen plant}\LB{130}{975}{T17:Aromatic Extraction}\LB{231.7}{978}{T90:High-pressure\\Hydrogenation}\LB{216}{990}{P122:H2}
\LB{323}{977}{T18:Entparaffinierung}\LB{99}{1067}{P88:Cat. Cracker}\LB{141}{1065}{P107:Hydrocracke}
\LB{402}{1002}{T52}\LB{462}{983}{T19:Hydrofinishing}\LB{454}{992}{P122}\LB{523.5}{1017}{T53}\LB{563}{1028}{P157:Energy of\\Products}\LB{673}{1013}{P20:Base}\LB{667}{1071}{P22:Slack W}
\end{tikzpicture}
\end{document}
